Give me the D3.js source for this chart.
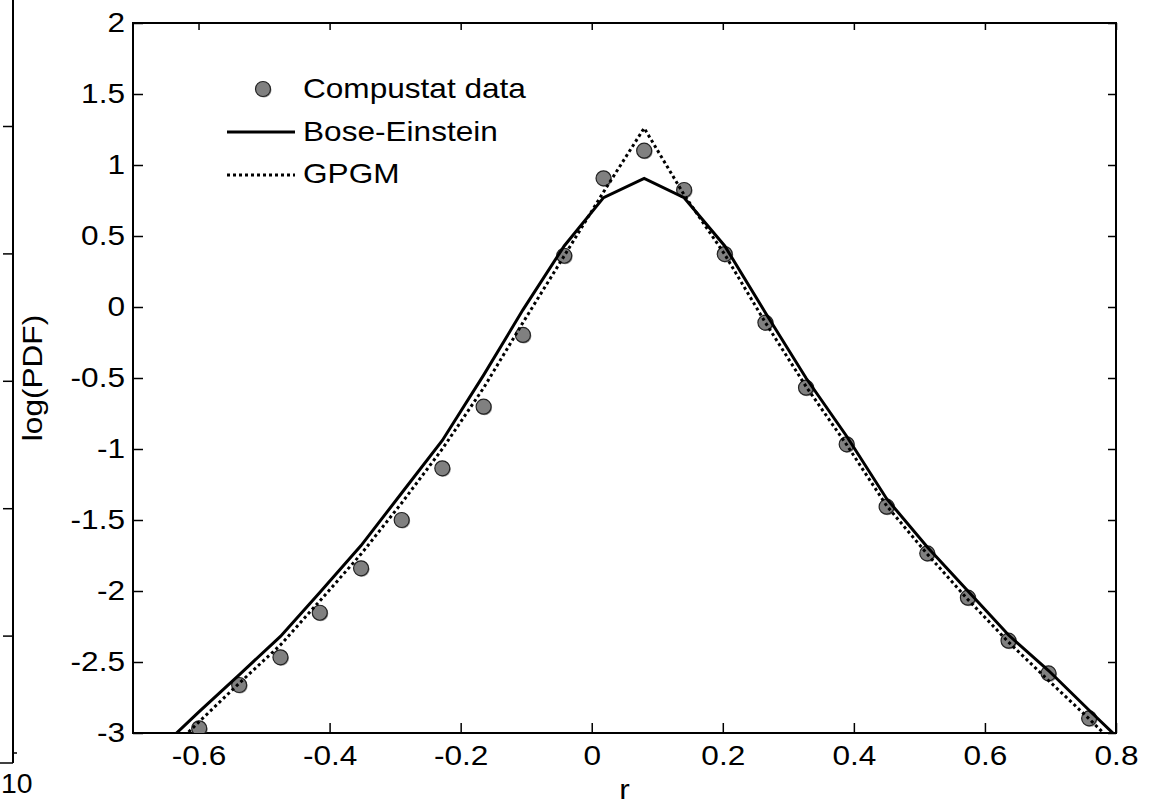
<html>
<head>
<meta charset="utf-8">
<title>log(PDF) vs r</title>
<style>
  body{margin:0;background:#fff;}
  text{font-family:"Liberation Sans",Arial,Helvetica,sans-serif;fill:#000;}
</style>
<script src="https://d3js.org/d3.v7.min.js"></script>
</head>
<body>
<script>
// Compustat data points
var rData = [-0.599,-0.538,-0.475,-0.415,-0.352,-0.290,-0.228,-0.165,-0.105,-0.042,0.018,0.080,
             0.141,0.203,0.265,0.327,0.389,0.450,0.512,0.574,0.636,0.697,0.759];
var pdfData = [-2.967,-2.662,-2.467,-2.153,-1.840,-1.500,-1.136,-0.702,-0.197,0.361,0.906,1.101,
               0.824,0.373,-0.110,-0.568,-0.967,-1.406,-1.735,-2.047,-2.350,-2.580,-2.897];

// fitted curves (same grid, one extra point each end, clipped by the axes)
var fitX = [-0.661,-0.599,-0.538,-0.475,-0.415,-0.352,-0.290,-0.228,-0.165,-0.105,-0.042,0.018,0.080,
            0.141,0.203,0.265,0.327,0.389,0.450,0.512,0.574,0.636,0.697,0.759,0.820];
var boseY = [-3.12,-2.85,-2.59,-2.32,-2.01,-1.68,-1.31,-0.94,-0.48,-0.02,0.43,0.77,0.905,
             0.77,0.43,-0.04,-0.50,-0.91,-1.35,-1.69,-2.00,-2.31,-2.56,-2.84,-3.11];
var gpgmY = [-3.20,-2.92,-2.65,-2.38,-2.07,-1.74,-1.38,-1.00,-0.57,-0.11,0.36,0.81,1.26,
             0.79,0.37,-0.11,-0.56,-0.97,-1.40,-1.74,-2.06,-2.36,-2.63,-2.90,-3.18];

var xTicks = [-0.6,-0.4,-0.2,0,0.2,0.4,0.6,0.8];
var yTicks = [-3,-2.5,-2,-1.5,-1,-0.5,0,0.5,1,1.5,2];
var legendNames = ["Compustat data","Bose-Einstein","GPGM"];

var width = 1169, height = 805,
    plotL = 133, plotR = 1116, plotT = 23, plotB = 733,
    fontSize = 27, stretch = 1.17;

var x = d3.scaleLinear().domain([-0.7,0.8]).range([plotL,plotR]);
var y = d3.scaleLinear().domain([-3,2]).range([plotB,plotT]);

var svg = d3.select("body").append("svg")
            .attr("width",width)
            .attr("height",height);

svg.append("defs").append("clipPath").attr("id","plotclip")
   .append("rect")
   .attr("x",plotL).attr("y",plotT)
   .attr("width",plotR-plotL).attr("height",plotB-plotT);

// remnant of the neighbouring figure on the far left
var rem = d3.scaleLinear().domain([0,6]).range([763,-1.4]);
var remAxis = svg.append("g")
   .attr("transform","translate(13,0)")
   .call(d3.axisLeft(rem).tickValues([1,2,3,4,5]).tickSize(10).tickFormat(""));
remAxis.selectAll("line").attr("stroke","#000").attr("stroke-width",1.5);
remAxis.select(".domain").remove();
svg.append("line").attr("x1",13).attr("x2",13).attr("y1",0).attr("y2",763)
   .attr("stroke","#000").attr("stroke-width",2);
svg.append("line").attr("x1",0).attr("x2",13).attr("y1",763).attr("y2",763)
   .attr("stroke","#000").attr("stroke-width",1.5);
svg.append("line").attr("x1",13).attr("x2",17).attr("y1",753).attr("y2",753)
   .attr("stroke","#000").attr("stroke-width",1.5);
svg.append("text").text("10")
   .attr("transform","translate(1,793) scale(1.05,1)")
   .style("font-size",fontSize+"px");

// axes with inward ticks
var xAxis = svg.append("g")
   .attr("transform","translate(0,"+plotB+")")
   .call(d3.axisBottom(x).tickValues(xTicks).tickSizeInner(-10).tickSizeOuter(0)
         .tickFormat(d=>String(d)));
xAxis.selectAll("text")
   .attr("y",32).attr("dy",null)
   .attr("transform","scale("+stretch+",1)")
   .style("font-size",fontSize+"px");

var yAxis = svg.append("g")
   .attr("transform","translate("+plotL+",0)")
   .call(d3.axisLeft(y).tickValues(yTicks).tickSizeInner(-10).tickSizeOuter(0)
         .tickFormat(d=>String(d)));
yAxis.selectAll("text")
   .attr("x",-8/stretch)
   .attr("transform","scale("+stretch+",1)")
   .style("font-size",fontSize+"px");

var xTop = svg.append("g")
   .attr("transform","translate(0,"+plotT+")")
   .call(d3.axisTop(x).tickValues(xTicks).tickSizeInner(-7).tickSizeOuter(0).tickFormat(""));
var yRight = svg.append("g")
   .attr("transform","translate("+plotR+",0)")
   .call(d3.axisRight(y).tickValues(yTicks).tickSizeInner(-8).tickSizeOuter(0).tickFormat(""));

[xAxis,yAxis,xTop,yRight].forEach(g=>{
  g.select(".domain").remove();
  g.selectAll(".tick line").attr("stroke","#000").attr("stroke-width",1.5);
});

svg.append("rect")
   .attr("x",plotL).attr("y",plotT)
   .attr("width",plotR-plotL).attr("height",plotB-plotT)
   .attr("fill","none").attr("stroke","#000").attr("stroke-width",2);

// data
var plot = svg.append("g").attr("clip-path","url(#plotclip)");

var pts = rData.map((r,i)=>({r:r,v:pdfData[i]}));
plot.selectAll(".shadow").data(pts).enter().append("circle")
    .attr("cx",d=>x(d.r)+1).attr("cy",d=>y(d.v)+1).attr("r",7.5)
    .attr("fill","#333").attr("opacity",0.5);
plot.selectAll(".pt").data(pts).enter().append("circle")
    .attr("class","pt")
    .attr("cx",d=>x(d.r)).attr("cy",d=>y(d.v)).attr("r",7.5)
    .attr("fill","#808080").attr("stroke","#222").attr("stroke-width",1.2);

var line = d3.line().x(d=>x(d[0])).y(d=>y(d[1]));
plot.append("path")
    .datum(fitX.map((r,i)=>[r,boseY[i]]))
    .attr("d",line)
    .attr("fill","none").attr("stroke","#000").attr("stroke-width",3)
    .attr("stroke-linejoin","miter");
plot.append("path")
    .datum(fitX.map((r,i)=>[r,gpgmY[i]]))
    .attr("d",line)
    .attr("fill","none").attr("stroke","#000").attr("stroke-width",3)
    .attr("stroke-dasharray","3,3");

// labels
svg.append("text").text("r")
   .attr("text-anchor","middle")
   .attr("transform","translate("+((plotL+plotR)/2)+",799) scale("+stretch+",1)")
   .style("font-size",fontSize+"px");
svg.append("text").text("log(PDF)")
   .attr("text-anchor","middle")
   .attr("transform","translate(42,"+((plotT+plotB)/2)+") rotate(-90) scale("+stretch+",1)")
   .style("font-size",fontSize+"px");

// legend
var legend = svg.append("g");
legend.append("circle").attr("cx",264).attr("cy",90).attr("r",7.5)
      .attr("fill","#333").attr("opacity",0.5);
legend.append("circle").attr("cx",263).attr("cy",89).attr("r",7.5)
      .attr("fill","#808080").attr("stroke","#222").attr("stroke-width",1.2);
legend.append("line").attr("x1",227).attr("x2",295).attr("y1",132).attr("y2",132)
      .attr("stroke","#000").attr("stroke-width",3);
legend.append("line").attr("x1",227).attr("x2",295).attr("y1",175).attr("y2",175)
      .attr("stroke","#000").attr("stroke-width",3).attr("stroke-dasharray","3,3");
legend.selectAll(".lbl").data(legendNames).enter().append("text")
      .text(d=>d)
      .attr("transform",(d,i)=>"translate(303,"+(98+42.5*i)+") scale("+stretch+",1)")
      .style("font-size",fontSize+"px");
</script>
</body>
</html>
